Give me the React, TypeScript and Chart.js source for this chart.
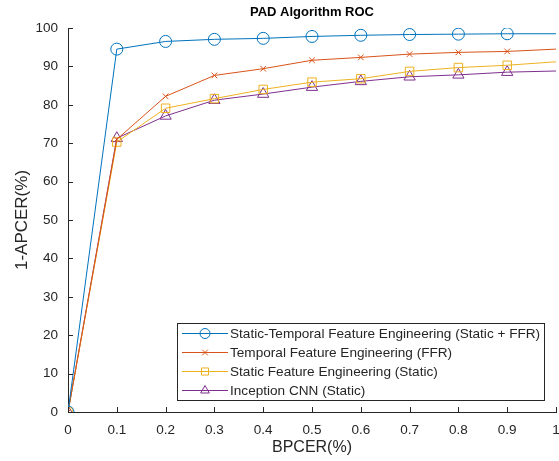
import React, { useEffect, useRef } from "react";
import { Chart, registerables } from "chart.js";

Chart.register(...registerables);

const xValues = [0, 0.1, 0.2, 0.3, 0.4, 0.5, 0.6, 0.7, 0.8, 0.9, 1];
const staticTemporal = [0, 94.5, 96.5, 97.05, 97.3, 97.8, 98.1, 98.3, 98.4, 98.5, 98.5];
const temporal = [0, 71.0, 82.2, 87.65, 89.4, 91.6, 92.35, 93.2, 93.65, 93.9, 94.5];
const staticFE = [0, 70.3, 79.1, 81.6, 84.0, 85.9, 86.8, 88.7, 89.7, 90.3, 91.2];
const inception = [0, 71.3, 77.1, 81.2, 82.8, 84.6, 86.1, 87.3, 87.8, 88.5, 88.8];

const seriesLabels = [
  "Static-Temporal Feature Engineering (Static + FFR)",
  "Temporal Feature Engineering (FFR)",
  "Static Feature Engineering (Static)",
  "Inception CNN (Static)",
];
const xTicks = [0, 0.1, 0.2, 0.3, 0.4, 0.5, 0.6, 0.7, 0.8, 0.9, 1];
const yTicks = [0, 10, 20, 30, 40, 50, 60, 70, 80, 90, 100];
const titleText = "PAD Algorithm ROC";
const xTitle = "BPCER(%)";
const yTitle = "1-APCER(%)";

const COLORS = ["#0072BD", "#D95319", "#EDB120", "#7E2F8E"];
const STYLES = ["circle", "crossRot", "rect", "triangle"];
const RADII = [6, 4, 6, 6.5];
const AXIS = "#262626";
const FONT = "Arial, 'Liberation Sans', Helvetica, sans-serif";
const PLOT_RIGHT = 556;

function drawMarker(ctx: CanvasRenderingContext2D, style: string, x: number, y: number, r: number) {
  ctx.beginPath();
  if (style === "circle") {
    ctx.arc(x, y, r, 0, Math.PI * 2);
  } else if (style === "crossRot") {
    const s = r * Math.SQRT1_2;
    ctx.moveTo(x - s, y - s);
    ctx.lineTo(x + s, y + s);
    ctx.moveTo(x + s, y - s);
    ctx.lineTo(x - s, y + s);
  } else if (style === "rect") {
    const s = r * Math.SQRT1_2;
    ctx.rect(x - s, y - s, 2 * s, 2 * s);
  } else if (style === "triangle") {
    const a = r * Math.sin(Math.PI / 3);
    ctx.moveTo(x, y - r);
    ctx.lineTo(x + a, y + r / 2);
    ctx.lineTo(x - a, y + r / 2);
    ctx.closePath();
  }
  ctx.stroke();
}

const decorPlugin = {
  id: "decor",
  afterLayout(chart: any) {
    const ca = chart.chartArea;
    const xs = chart.scales.x;
    ca.right = PLOT_RIGHT;
    ca.width = ca.right - ca.left;
    xs.right = PLOT_RIGHT;
    xs.width = PLOT_RIGHT - xs.left;
    xs.configure();
  },
  afterDraw(chart: any) {
    const { ctx, chartArea, scales } = chart;
    const { left, right, bottom } = chartArea;
    ctx.save();
    // inward ticks
    ctx.strokeStyle = AXIS;
    ctx.lineWidth = 1;
    ctx.beginPath();
    xTicks.forEach((v) => {
      const px = Math.round(scales.x.getPixelForValue(v)) + 0.5;
      ctx.moveTo(px, bottom);
      ctx.lineTo(px, bottom - 5);
    });
    yTicks.forEach((v) => {
      const py = Math.round(scales.y.getPixelForValue(v)) + 0.5;
      ctx.moveTo(left, py);
      ctx.lineTo(left + 5, py);
    });
    ctx.stroke();

    // title
    ctx.fillStyle = "#000000";
    ctx.font = `bold 13px ${FONT}`;
    ctx.textAlign = "center";
    ctx.textBaseline = "middle";
    ctx.fillText(titleText, (left + right) / 2, 12);

    // legend
    const bx = 177.5, by = 323.5, bw = 367, bh = 77;
    ctx.fillStyle = "#ffffff";
    ctx.fillRect(bx, by, bw, bh);
    ctx.strokeStyle = AXIS;
    ctx.strokeRect(bx, by, bw, bh);
    ctx.font = `13.6px ${FONT}`;
    ctx.textAlign = "left";
    ctx.textBaseline = "middle";
    seriesLabels.forEach((lab, i) => {
      const ry = 333.5 + i * 19;
      ctx.strokeStyle = COLORS[i];
      ctx.lineWidth = 1;
      ctx.beginPath();
      ctx.moveTo(182, ry);
      ctx.lineTo(228, ry);
      ctx.stroke();
      drawMarker(ctx, STYLES[i], 205, ry, i === 1 ? 4 : 5);
      ctx.fillStyle = AXIS;
      ctx.fillText(lab, 230, ry + 0.5);
    });
    ctx.restore();
  },
};

export default function App() {
  const ref = useRef<HTMLCanvasElement | null>(null);
  useEffect(() => {
    document.body.style.margin = "0";
    const canvas = ref.current;
    if (!canvas) return;
    const seriesData = [staticTemporal, temporal, staticFE, inception];
    const chart = new Chart(canvas, {
      type: "line",
      data: {
        datasets: seriesData.map((arr, i) => ({
          label: seriesLabels[i],
          data: arr.map((y, j) => ({ x: xValues[j], y })),
          borderColor: COLORS[i],
          backgroundColor: "rgba(0,0,0,0)",
          borderWidth: 1,
          pointStyle: STYLES[i] as any,
          pointRadius: (c: any) => (c.dataIndex === xValues.length - 1 ? 0 : RADII[i]),
          pointBorderColor: COLORS[i],
          pointBackgroundColor: "rgba(0,0,0,0)",
          pointBorderWidth: 1,
          tension: 0,
          fill: false,
        })),
      },
      options: {
        animation: false,
        responsive: false,
        devicePixelRatio: 1,
        layout: { padding: { top: 28, right: 3, left: 0, bottom: 0 } },
        plugins: {
          legend: { display: false },
          title: { display: false },
          tooltip: { enabled: false },
        },
        scales: {
          x: {
            type: "linear",
            min: 0,
            max: 1,
            afterBuildTicks: (s: any) => {
              s.ticks = xTicks.map((v) => ({ value: v }));
            },
            afterFit: (s: any) => {
              s.height = 49;
              s.paddingLeft = 0;
              s.paddingRight = 0;
            },
            ticks: {
              color: AXIS,
              font: { family: FONT, size: 13.5 },
              padding: 10,
              maxRotation: 0,
              autoSkip: false,
              callback: (v: any) => String(Number(Number(v).toFixed(1))),
            },
            grid: { display: false, drawTicks: false },
            border: { display: true, color: AXIS, width: 1 },
            title: {
              display: true,
              text: xTitle,
              color: AXIS,
              font: { family: FONT, size: 16 },
              padding: { top: 0, bottom: 4 },
            },
          },
          y: {
            type: "linear",
            min: 0,
            max: 100,
            afterBuildTicks: (s: any) => {
              s.ticks = yTicks.map((v) => ({ value: v }));
            },
            afterFit: (s: any) => {
              s.width = 68;
              s.paddingTop = 0;
              s.paddingBottom = 0;
            },
            ticks: {
              color: AXIS,
              font: { family: FONT, size: 13.5 },
              padding: 10,
              autoSkip: false,
            },
            grid: { display: false, drawTicks: false },
            border: { display: true, color: AXIS, width: 1 },
            title: {
              display: true,
              text: yTitle,
              color: AXIS,
              font: { family: FONT, size: 17 },
              padding: { top: 12, bottom: 0 },
            },
          },
        },
      },
      plugins: [decorPlugin],
    });
    return () => chart.destroy();
  }, []);
  return (
    <canvas
      ref={ref}
      width={559}
      height={461}
      style={{ display: "block", width: 559, height: 461 }}
    />
  );
}
